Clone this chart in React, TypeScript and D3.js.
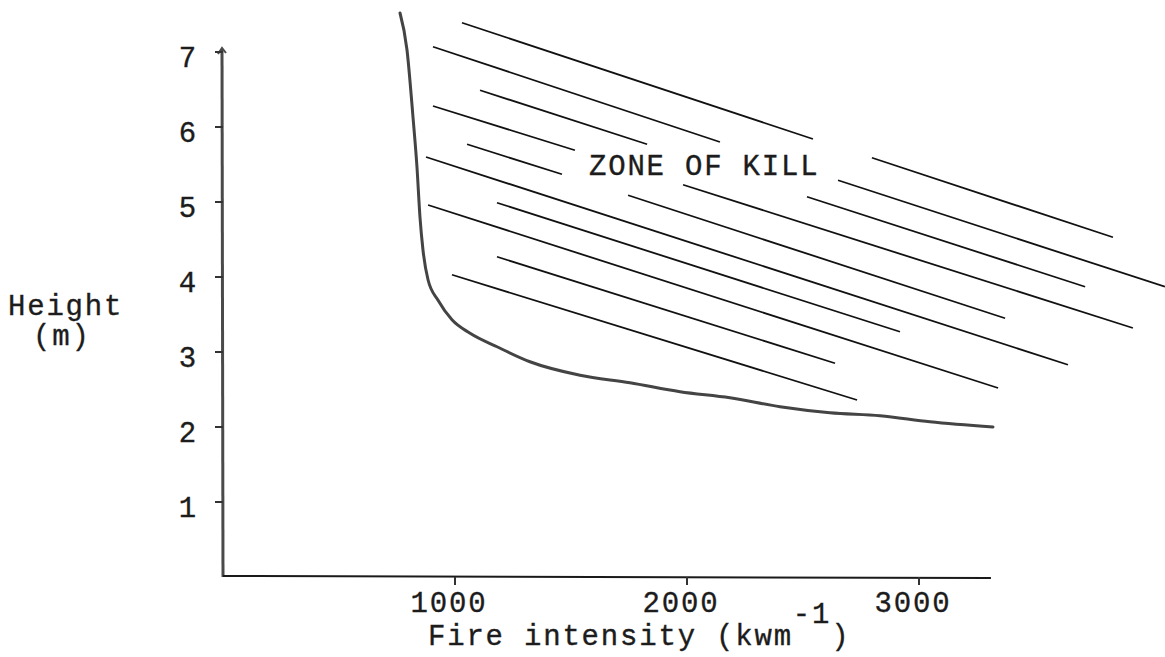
import * as d3 from "d3";
import React, { useEffect, useRef } from "react";

// boundary of the kill zone: fire intensity (kW/m) vs height (m)
const curveIntensity = [763, 793, 819, 836, 849, 862, 884, 927, 987, 1065, 1181, 1323, 1539, 1754, 1970, 2185, 2401, 2616, 2832, 3047, 3319];
const curveHeight = [7.52, 7.03, 6.13, 5.47, 4.8, 4.36, 3.96, 3.69, 3.43, 3.25, 3.07, 2.87, 2.69, 2.59, 2.47, 2.39, 2.27, 2.19, 2.15, 2.07, 2.0];

// hatch strokes inside the zone (start / end in data units)
const hatchX1 = [1030, 905, 1108, 905, 1052, 875, 1983, 1746, 1181, 884, 1181, 987, 2797, 2651, 2517];
const hatchY1 = [7.39, 7.07, 6.49, 6.28, 5.77, 5.6, 5.23, 5.09, 4.99, 4.96, 4.27, 4.03, 5.59, 5.29, 5.07];
const hatchX2 = [2543, 2142, 1828, 1517, 1461, 3642, 3922, 3371, 2918, 3341, 2638, 2733, 3836, 4060, 3716];
const hatchY2 = [5.84, 5.8, 5.77, 5.69, 5.37, 2.83, 3.32, 3.45, 3.27, 2.52, 2.85, 2.36, 4.53, 3.87, 3.87];

const xTicks = [1000, 2000, 3000];
const yTicks = [1, 2, 3, 4, 5, 6, 7];
const xAxisMax = 3310;

const FONT = "'Liberation Mono', 'Courier New', monospace";

const App = () => {
  const svgRef = useRef<SVGSVGElement>(null);

  useEffect(() => {
    const width = 1165,
      height = 657;

    const x = d3.scaleLinear().domain([0, 3000]).range([223, 919]);
    const y = d3.scaleLinear().domain([0, 7]).range([577, 52]);

    const svg = d3.select(svgRef.current);
    svg.selectAll("*").remove();
    svg.attr("width", width).attr("height", height);

    svg.append("rect").attr("width", width).attr("height", height).attr("fill", "#ffffff");

    const txt = (s: d3.Selection<SVGTextElement, unknown, null, undefined>) =>
      s
        .style("font-family", FONT)
        .style("font-size", "29px")
        .style("letter-spacing", "1.8px")
        .attr("fill", "#1c1c1c")
        .attr("stroke", "#1c1c1c")
        .attr("stroke-width", 0.35);

    // y axis
    svg
      .append("line")
      .attr("x1", x(0))
      .attr("x2", x(0) - 1)
      .attr("y1", y(0))
      .attr("y2", y(7) - 3)
      .attr("stroke", "#4a4a4a")
      .attr("stroke-width", 3);
    svg
      .append("path")
      .attr("d", `M${x(0) - 5},${y(7) + 2} L${x(0) - 1},${y(7) - 4} L${x(0) + 3},${y(7) + 1}`)
      .attr("fill", "none")
      .attr("stroke", "#4a4a4a")
      .attr("stroke-width", 2);

    yTicks.forEach((t) => {
      svg
        .append("line")
        .attr("x1", x(0) - 8)
        .attr("x2", x(0))
        .attr("y1", y(t))
        .attr("y2", y(t))
        .attr("stroke", "#333")
        .attr("stroke-width", 2);
      svg
        .append("text")
        .attr("x", 198)
        .attr("y", y(t) + 15)
        .attr("text-anchor", "end")
        .text(t)
        .call(txt);
    });

    // x axis
    svg
      .append("line")
      .attr("x1", x(0))
      .attr("x2", x(xAxisMax))
      .attr("y1", y(0) - 1)
      .attr("y2", y(0) + 1)
      .attr("stroke", "#1a1a1a")
      .attr("stroke-width", 2);

    xTicks.forEach((t) => {
      svg
        .append("line")
        .attr("x1", x(t))
        .attr("x2", x(t))
        .attr("y1", y(0))
        .attr("y2", y(0) + 8)
        .attr("stroke", "#333")
        .attr("stroke-width", 2);
      svg
        .append("text")
        .attr("x", x(t) - 6)
        .attr("y", 612)
        .attr("text-anchor", "middle")
        .text(t)
        .call(txt);
    });

    // axis titles
    const xt = svg.append("text").attr("x", 428).attr("y", 645).call(txt);
    xt.append("tspan").text("Fire intensity (kwm");
    xt.append("tspan").attr("dy", -22).text("-1");
    xt.append("tspan").attr("dy", 22).text(")");

    svg.append("text").attr("x", 8).attr("y", 315).text("Height").call(txt);
    svg.append("text").attr("x", 33).attr("y", 345).text("(m)").call(txt);

    // hatching
    svg
      .append("g")
      .selectAll("line")
      .data(d3.range(hatchX1.length))
      .enter()
      .append("line")
      .attr("x1", (i) => x(hatchX1[i]))
      .attr("y1", (i) => y(hatchY1[i]))
      .attr("x2", (i) => x(hatchX2[i]))
      .attr("y2", (i) => y(hatchY2[i]))
      .attr("stroke", "#111")
      .attr("stroke-width", 1.8);

    // boundary curve
    const pts = curveIntensity.map((v, i) => [v, curveHeight[i]] as [number, number]);
    svg
      .append("path")
      .datum(pts)
      .attr("fill", "none")
      .attr("stroke", "#444")
      .attr("stroke-width", 3)
      .attr("stroke-linecap", "round")
      .attr(
        "d",
        d3
          .line<[number, number]>()
          .x((d) => x(d[0]))
          .y((d) => y(d[1]))
          .curve(d3.curveMonotoneX)
      );

    svg.append("text").attr("x", 589).attr("y", 175).text("ZONE OF KILL").call(txt);
  }, []);

  return (
    <div style={{ position: "absolute", left: 0, top: 0 }}>
      <svg ref={svgRef} style={{ display: "block" }}></svg>
    </div>
  );
};

export default App;
